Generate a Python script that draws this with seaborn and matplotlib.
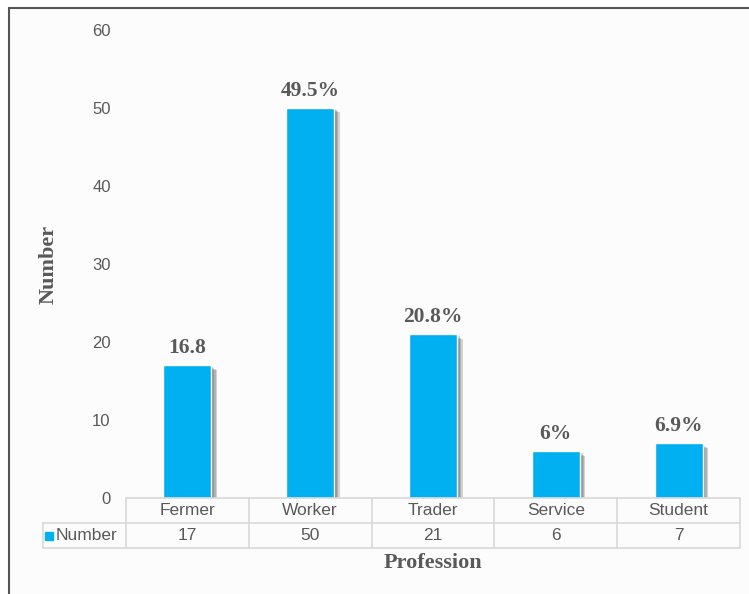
import matplotlib
matplotlib.use("Agg")
import matplotlib.pyplot as plt
import seaborn as sns
from matplotlib import patheffects as pe
from matplotlib.patches import Rectangle

# chart data
professions = ["Fermer", "Worker", "Trader", "Service", "Student"]
counts = [17, 50, 21, 6, 7]
bar_labels = ["16.8", "49.5%", "20.8%", "6%", "6.9%"]
y_ticks = [0, 10, 20, 30, 40, 50, 60]
series_name = "Number"

BLUE = "#00B0F0"
GREY = "#595959"
LINE = "#D9D9D9"

sns.set_theme(style="white")
plt.rcParams['font.family'] = ['Liberation Sans', 'DejaVu Sans']

fig = plt.figure(figsize=(7.49, 5.94), dpi=100)
fig.patch.set_facecolor('white')
# outer chart frame (only top/left edges visible in the crop)
fig.patches.append(Rectangle((9 / 749, -0.1), 1.0, (594 - 8) / 594 + 0.1,
                             transform=fig.transFigure, facecolor='#FCFCFC',
                             edgecolor='#555555', lw=1.5, zorder=-5))

ax = fig.add_axes([126 / 749, 96 / 594, 614 / 749, 468 / 594])
ax.set_zorder(2)
ax.set_facecolor('none')
sns.barplot(x=professions, y=counts, color=BLUE, width=0.39, saturation=1, ax=ax)

# soft drop shadow, faked with a few stacked offsets
shadow = [pe.SimplePatchShadow(offset=(o, -o * 0.8), shadow_rgbFace='#404040', alpha=0.22)
          for o in (1, 2, 3, 4)]
for p in ax.patches:
    p.set_path_effects(shadow + [pe.Normal()])

n = len(professions)
ax.set_xlim(-0.5, n - 0.5)
ax.set_ylim(0, 60)
ax.set_yticks(y_ticks)
ax.tick_params(axis='y', length=0, pad=11, labelsize=12, labelcolor=GREY)
ax.tick_params(axis='x', length=0, labelbottom=False)
sns.despine(ax=ax, left=True, bottom=True)

ax.bar_label(ax.containers[0], labels=bar_labels, padding=5, fontsize=15.5,
             fontweight='bold', family='Liberation Serif', color=GREY)

# data table under the axis
tr = ax.get_xaxis_transform()
r1, r2 = -25 / 468, -50 / 468
left_col = -0.5 - 83 / 122.8
ax.plot([-0.5, n - 0.5], [0, 0], color=LINE, lw=1.2, transform=tr, clip_on=False)
for yy in (r1, r2):
    ax.plot([left_col, n - 0.5], [yy, yy], color=LINE, lw=1.2, transform=tr, clip_on=False)
for xx in [i - 0.5 for i in range(n + 1)]:
    ax.plot([xx, xx], [0, r2], color=LINE, lw=1.2, transform=tr, clip_on=False)
ax.plot([left_col, left_col], [r1, r2], color=LINE, lw=1.2, transform=tr, clip_on=False)

for i, (name, val) in enumerate(zip(professions, counts)):
    ax.text(i, r1 / 2, name, ha='center', va='center', fontsize=12.5, color=GREY, transform=tr)
    ax.text(i, (r1 + r2) / 2, str(val), ha='center', va='center', fontsize=12.5, color=GREY, transform=tr)

ax.plot([-0.5 - 77 / 122.8], [(r1 + r2) / 2], marker='s', ms=6, color=BLUE, transform=tr, clip_on=False)
ax.text(-0.5 - 70 / 122.8, (r1 + r2) / 2, series_name, ha='left', va='center',
        fontsize=12.5, color=GREY, transform=tr)

ax.set_ylabel("Number", fontsize=16, fontweight='bold', family='Liberation Serif', color=GREY)
ax.yaxis.set_label_coords(-0.11, 0.5)
ax.set_xlabel("Profession", fontsize=16, fontweight='bold', family='Liberation Serif', color=GREY)
ax.xaxis.set_label_coords(0.5, -0.1175)

fig.savefig("out.png", dpi=100)
